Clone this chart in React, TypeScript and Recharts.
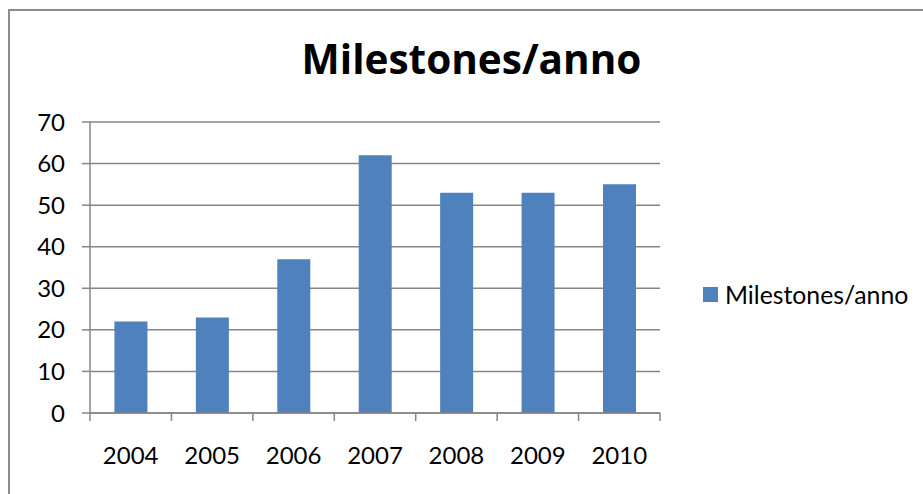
import React from 'react';
import { BarChart, Bar, XAxis, YAxis, CartesianGrid, Legend } from 'recharts';

const categories = ['2004', '2005', '2006', '2007', '2008', '2009', '2010'];
const values = [22, 23, 37, 62, 53, 53, 55];
const yTicks = [0, 10, 20, 30, 40, 50, 60, 70];
const seriesName = 'Milestones/anno';
const titleText = 'Milestones/anno';

const data = categories.map((c, i) => ({ year: c, value: values[i] }));

const GRAY = '#868686';
const BLUE = '#4F81BD';
const FONT = 'Lato, "Open Sans", sans-serif';
const TITLE_FONT = '"Open Sans", Lato, sans-serif';

const XTick = (props: any) => {
  const { x, y, payload, index, visibleTicksCount } = props;
  const half = payload && typeof payload.offset === 'number' ? payload.offset : 0;
  const isLast = index === (visibleTicksCount ?? categories.length) - 1;
  return (
    <g>
      <line x1={x - half} x2={x - half} y1={y - 8} y2={y} stroke={GRAY} strokeWidth={1.5} />
      {isLast && <line x1={x + half} x2={x + half} y1={y - 8} y2={y} stroke={GRAY} strokeWidth={1.5} />}
      <text x={x} y={y} dy={43} textAnchor="middle" fill="#000" fontSize={24} fontFamily={FONT}>
        {payload.value}
      </text>
    </g>
  );
};

const LegendContent = () => (
  <div style={{ display: 'flex', alignItems: 'center', fontFamily: FONT, fontSize: 24.8, lineHeight: 1.2, color: '#000', whiteSpace: 'nowrap' }}>
    <span style={{ display: 'inline-block', width: 15, height: 15, background: BLUE, marginRight: 7 }} />
    <span>{seriesName}</span>
  </div>
);

export default function App() {
  return (
    <div style={{ position: 'fixed', left: 0, top: 0, width: 923, height: 494, overflow: 'hidden', background: '#fff' }}>
      <div style={{ position: 'absolute', left: 8, top: 9, width: 1000, height: 1000, border: '2px solid #8c8c8c', boxSizing: 'border-box' }} />
      <div style={{ position: 'absolute', left: 0, top: 31, width: 943, textAlign: 'center', fontFamily: TITLE_FONT, fontWeight: 700, fontSize: 40.5, lineHeight: 'normal', color: '#000' }}>
        {titleText}
      </div>
      <div style={{ position: 'absolute', left: 0, top: 0 }}>
        <BarChart width={923} height={494} data={data} margin={{ top: 122, right: 263, bottom: 0, left: 0 }} barCategoryGap="30%">
          <CartesianGrid vertical={false} stroke={GRAY} strokeWidth={1.5} />
          <XAxis dataKey="year" height={81} tickSize={8} tickMargin={0} tickLine={false} axisLine={{ stroke: GRAY, strokeWidth: 1.5 }} tick={<XTick />} interval={0} />
          <YAxis width={90} domain={[0, 70]} ticks={yTicks} interval={0} tickSize={8} tickMargin={17} axisLine={{ stroke: GRAY, strokeWidth: 1.5 }} tickLine={{ stroke: GRAY, strokeWidth: 1.5 }} tick={{ fill: '#000', fontSize: 24, fontFamily: FONT }} />
          <Legend layout="horizontal" align="center" verticalAlign="middle" content={<LegendContent />} wrapperStyle={{ position: 'absolute', left: 703, top: 280, width: 'auto' }} />
          <Bar dataKey="value" name={seriesName} fill={BLUE} isAnimationActive={false} />
        </BarChart>
      </div>
    </div>
  );
}
